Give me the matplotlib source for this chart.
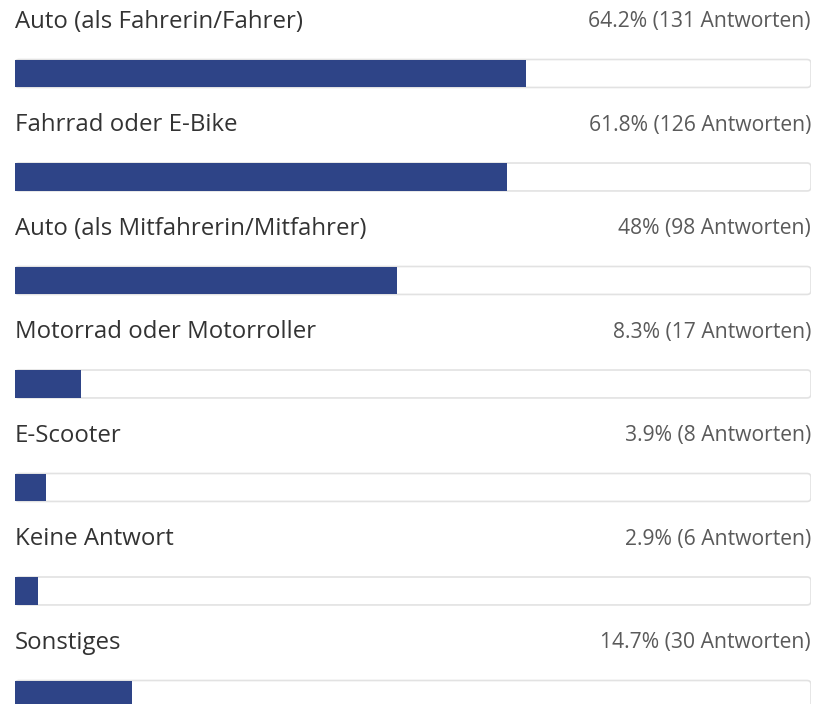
import matplotlib.pyplot as plt
from matplotlib.patches import FancyBboxPatch

categories = [
    "Auto (als Fahrerin/Fahrer)",
    "Fahrrad oder E-Bike",
    "Auto (als Mitfahrerin/Mitfahrer)",
    "Motorrad oder Motorroller",
    "E-Scooter",
    "Keine Antwort",
    "Sonstiges",
]
percents = [64.2, 61.8, 48, 8.3, 3.9, 2.9, 14.7]
counts = [131, 126, 98, 17, 8, 6, 30]

fig = plt.figure(figsize=(8.15, 7.04), dpi=100)
ax = fig.add_axes([15 / 815, 0, 796 / 815, 1])
ax.set_xlim(0, 100)
ax.set_ylim(6.092, -0.710)
ax.axis("off")

bar_h = 0.27
aspect = (1 / 103.5) / (1 / 7.96)
for i, (cat, p, n) in enumerate(zip(categories, percents, counts)):
    track = FancyBboxPatch((0, i - bar_h / 2), 100, bar_h,
                           boxstyle="round,pad=0,rounding_size=0.5",
                           mutation_aspect=aspect,
                           facecolor="white", edgecolor="#e2e2e2", lw=1.2)
    ax.add_patch(track)
    ax.barh(i, p, height=bar_h, color="#2e4487", zorder=3)
    ax.text(0, i - 0.50, cat, ha="left", va="center",
            fontsize=17.3, color="#333333", family="Open Sans")
    ax.text(100, i - 0.50, f"{p:g}% ({n} Antworten)", ha="right", va="center",
            fontsize=15.2, color="#5a5a5a", family="Open Sans")

fig.savefig("out.png", dpi=100)
